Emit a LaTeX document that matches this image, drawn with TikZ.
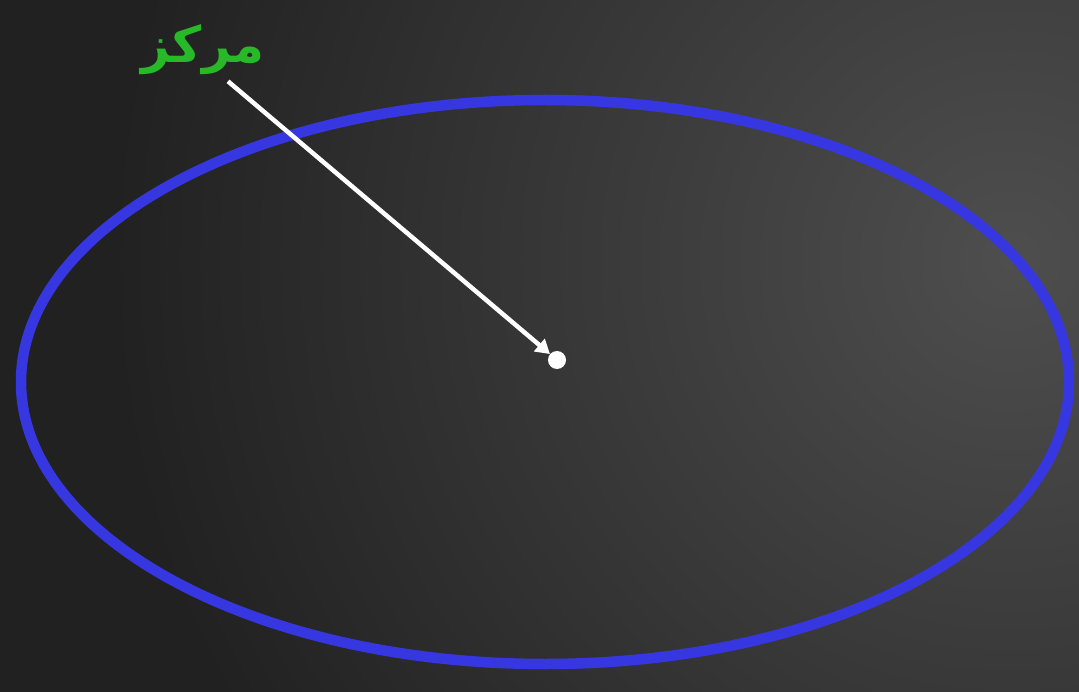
\documentclass[tikz,border=0pt]{standalone}
\usepackage{fontspec}
\newfontfamily\arabicfont[Script=Arabic]{DejaVu Sans}
\TeXXeTstate=1
\usetikzlibrary{arrows.meta}
\definecolor{bgdark}{RGB}{33,33,33}
\definecolor{bglight}{RGB}{78,78,78}
\definecolor{ringblue}{RGB}{55,55,225}
\definecolor{lblgreen}{RGB}{40,185,40}
\tikzset{
  ring/.style={draw=ringblue, line width=10.5pt},
  pointer/.style={draw=white, line width=4.5pt, -{Triangle[length=14pt,width=16pt]}},
  centerdot/.style={circle, fill=white, inner sep=0pt, minimum size=18pt},
  lbl/.style={text=lblgreen, font=\arabicfont\bfseries\fontsize{50}{56}\selectfont, inner sep=0pt}
}
\begin{document}
\begin{tikzpicture}[x=1pt,y=1pt]
  \useasboundingbox (0,0) rectangle (1079,-692);
  \fill[bgdark] (0,0) rectangle (1079,-692);
  \begin{scope}
    \clip (0,0) rectangle (1079,-692);
    \shade[inner color=bglight, outer color=bgdark] (1010,-260) circle (900);
  \end{scope}
  \draw[ring] (545,-382) ellipse [x radius=524, y radius=282];
  \node[centerdot] (c) at (557,-360) {};
  \node[lbl] (m) at (203,-50) {\beginR مركز\endR};
  \draw[pointer] ([xshift=25pt,yshift=-6pt]m.south) -- (c);
\end{tikzpicture}
\end{document}
